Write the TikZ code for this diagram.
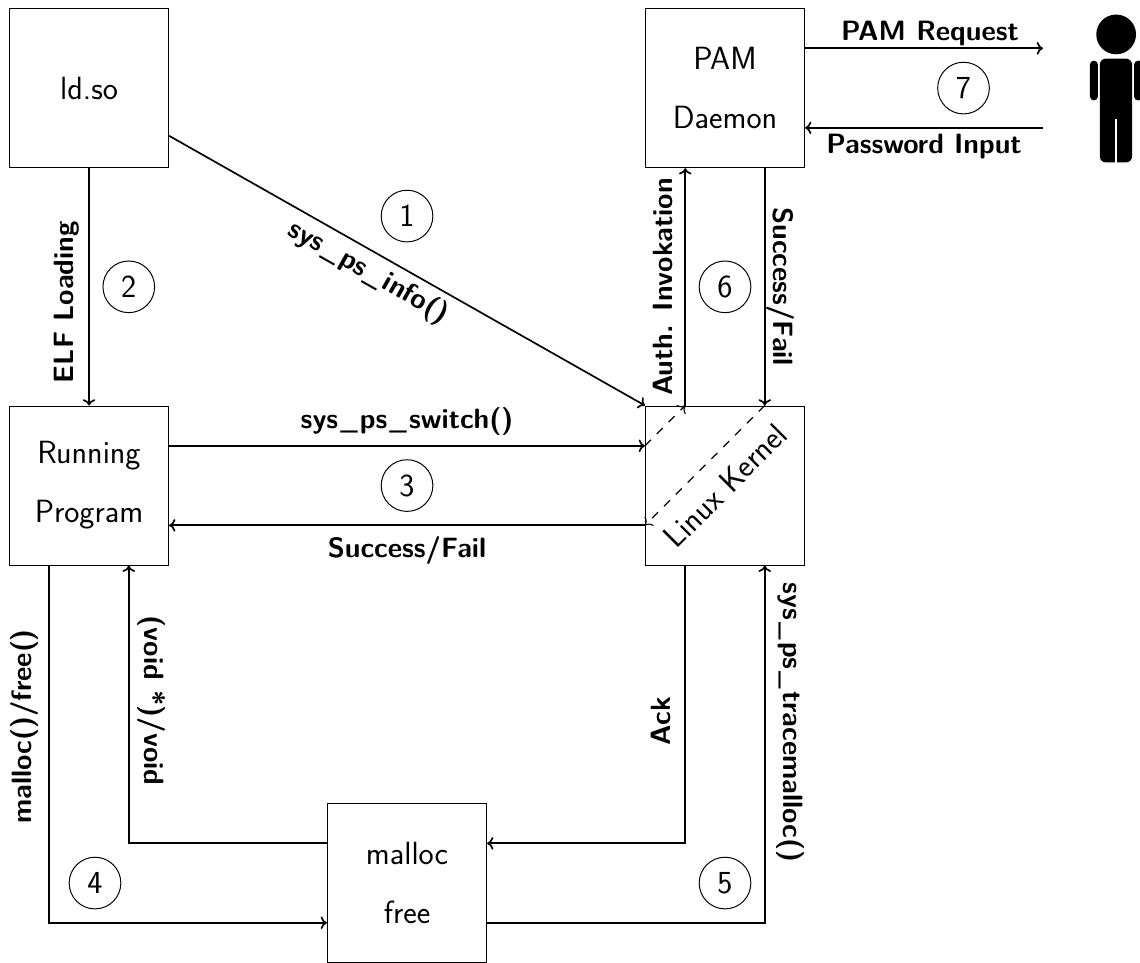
\documentclass[tikz,border=0pt]{standalone}
\usetikzlibrary{positioning,arrows.meta}
\newcommand{\us}{\kern1.5pt{\mdseries\_}\kern1.5pt}
\begin{document}
\begin{tikzpicture}
        [font=\sffamily\fontsize{23}{28}\selectfont,
        box/.style={draw=black,rectangle,line width=0.8pt,minimum size=4cm,inner sep=0mm,align=center},
        num/.style={draw=black,circle,line width=0.7pt,minimum size=1.3cm,inner sep=0mm},
        arrow/.style={-{To[length=4.5pt,width=9pt]},line width=1.2pt},
        dasharrow/.style={-{To[length=4.5pt,width=9pt]},line width=0.8pt,dash pattern=on 6pt off 6pt},
        lab/.style={font=\sffamily\bfseries\fontsize{20}{24}\selectfont,inner sep=1.5mm}]
        \useasboundingbox (-2.24,-12.01) rectangle (26.44,12.216);
        % the boxes
        \node[box] (ldso) at (0,10) {ld.so};
        \node[box] (running) at (0,0) {Running\\[5mm]Program};
        \node[box] (kernel) at (16,0) {};
        \node[rotate=45] (kerneltext) at (kernel) {Linux Kernel};
        \node[box] (pam) at (16,10) {PAM\\[5mm]Daemon};
        \node[box] (mallocbox) at (8,-10) {malloc\\[5mm]free};
        \coordinate (userin) at (24,11);
        \coordinate (userout) at (24,9);
        % the connectors
        \draw[arrow] ([yshift=-1.2cm]ldso.east) -- (kernel.north west)
          node[pos=0.44,below,sloped,lab] {sys\us ps\us info()};
        \draw[arrow] (ldso.south) -- (running.north)
          node[pos=0.565,above,rotate=90,lab,inner sep=2.2mm] {ELF Loading};
        \draw[arrow] ([yshift=1cm]running.east) -- ([yshift=1cm]kernel.west)
          node[midway,above,lab,inner sep=2.3mm] {sys\us ps\us switch()};
        \draw[arrow] ([yshift=-1cm]kernel.west) -- ([yshift=-1cm]running.east)
          node[midway,below,lab,inner sep=2.5mm] {Success/Fail};
        \draw[arrow] ([xshift=-1cm]running.south) |- ([yshift=-1cm]mallocbox.west)
          node[pos=0.225,above,rotate=90,lab,inner sep=2.5mm] {malloc()/free()};
        \draw[arrow] ([yshift=1cm]mallocbox.west) -| ([xshift=1cm]running.south)
          node[pos=0.757,above,rotate=-90,lab,inner sep=2mm] {(void *)/void};
        \draw[arrow] ([xshift=-1cm]kernel.south) |- ([yshift=1cm]mallocbox.east)
          node[pos=0.28,above,rotate=90,lab,inner sep=3.5mm] {Ack};
        \draw[arrow] ([yshift=-1cm]mallocbox.east) -| ([xshift=1cm]kernel.south)
          node[pos=0.78,above,rotate=-90,lab,inner sep=2.8mm] {sys\us ps\us tracemalloc()};
        \draw[arrow] ([xshift=-1cm]kernel.north) -- ([xshift=-1cm]pam.south)
          node[midway,above,rotate=90,lab,inner sep=3mm] {Auth. Invokation};
        \draw[arrow] ([xshift=1cm]pam.south) -- ([xshift=1cm]kernel.north)
          node[midway,above,rotate=-90,lab,inner sep=0.3mm] {Success/Fail};
        \draw[arrow] ([yshift=1cm]pam.east) -- (userin)
          node[pos=0.525,above,lab,inner sep=0.3mm] {PAM Request};
        \draw[arrow] (userout) -- ([yshift=-1cm]pam.east)
          node[midway,below,lab,inner sep=1.3mm] {Password Input};
        % inside the kernel
        \draw[dasharrow] ([yshift=1cm]kernel.west) -- ([xshift=-1cm]kernel.north);
        \draw[dasharrow] ([xshift=1cm]kernel.north) -- ([yshift=-1cm]kernel.west);
        % the numbers
        \node[num] (n1) at (8,6.78) {1};
        \node[num] (n2) at (1,5) {2};
        \node[num] (n3) at (8,0) {3};
        \node[num] (n4) at (0.15,-10) {4};
        \node[num] (n5) at (16,-10) {5};
        \node[num] (n6) at (16,5) {6};
        \node[num] (n7) at (22,10) {7};
        % the user
        \fill (25.84,11.35) circle (0.5);
        \fill[rounded corners=1.5mm] (25.43,8.13) rectangle (26.24,10.74);
        \fill[rounded corners=1mm] (25.18,9.69) rectangle (25.38,10.69);
        \fill[rounded corners=1mm] (26.29,9.69) rectangle (26.5,10.69);
        \draw[white,line width=0.5mm] (25.84,8) -- (25.84,9.23);
\end{tikzpicture}
\end{document}
